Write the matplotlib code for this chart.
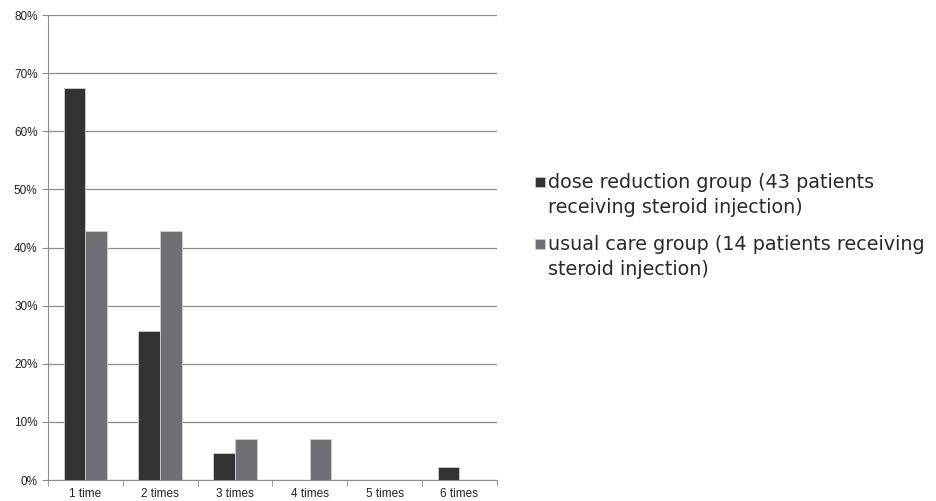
import matplotlib.pyplot as plt
import numpy as np
from matplotlib.patches import Rectangle
from matplotlib.ticker import FuncFormatter

plt.rcParams['font.family'] = ['Liberation Sans', 'DejaVu Sans']

categories = ["1 time", "2 times", "3 times", "4 times", "5 times", "6 times"]
dose_reduction = [67.4, 25.6, 4.7, 0.0, 0.0, 2.3]
usual_care = [42.9, 42.9, 7.1, 7.1, 0.0, 0.0]
series_labels = ["dose reduction group (43 patients\nreceiving steroid injection)",
                 "usual care group (14 patients receiving\nsteroid injection)"]
series_colors = ["#333333", "#707074"]

fig = plt.figure(figsize=(9.37, 5.01), dpi=100)
ax = fig.add_axes([0.0512, 0.0419, 0.479, 0.928])

x = np.arange(len(categories))
w = 0.29
for vals, off, col in zip([dose_reduction, usual_care], [-w / 2, w / 2], series_colors):
    ax.bar(x + off, vals, w, color=col, edgecolor="#d0d0d0", linewidth=0.6, zorder=3)

ax.set_xlim(-0.5, len(categories) - 0.5)
ax.set_ylim(0, 80)
ax.set_yticks(range(0, 81, 10))
ax.yaxis.set_major_formatter(FuncFormatter(lambda v, p: f"{v:.0f}%"))
ax.grid(axis="y", color="#8c8c8c", linewidth=0.9, zorder=0)
ax.set_xticks(x)
ax.set_xticklabels(categories)
ax.set_xticks(np.arange(-0.5, len(categories)), minor=True)
ax.tick_params(axis="x", which="major", length=0, pad=6, labelsize=8.5, colors="#222222")
ax.tick_params(axis="x", which="minor", length=4, color="#8c8c8c")
ax.tick_params(axis="y", length=4, color="#8c8c8c", labelsize=8.5, labelcolor="#222222")

for side in ("top", "right"):
    ax.spines[side].set_visible(False)
for side in ("left", "bottom"):
    ax.spines[side].set_color("#8c8c8c")

# legend: square swatch beside the first line of each two-line label
W, H = 937, 501
for i, (lab, col) in enumerate(zip(series_labels, series_colors)):
    top = 173 + i * 62
    fig.patches.append(Rectangle((535 / W, 1 - (top + 14) / H), 10 / W, 10 / H,
                                 transform=fig.transFigure, facecolor=col,
                                 edgecolor="#d0d0d0", linewidth=0.5))
    fig.text(548 / W, 1 - top / H, lab, ha="left", va="top", fontsize=13.8,
             family="DejaVu Sans", color="#2a2a2a", linespacing=1.42)

fig.savefig("out.png", dpi=100)
